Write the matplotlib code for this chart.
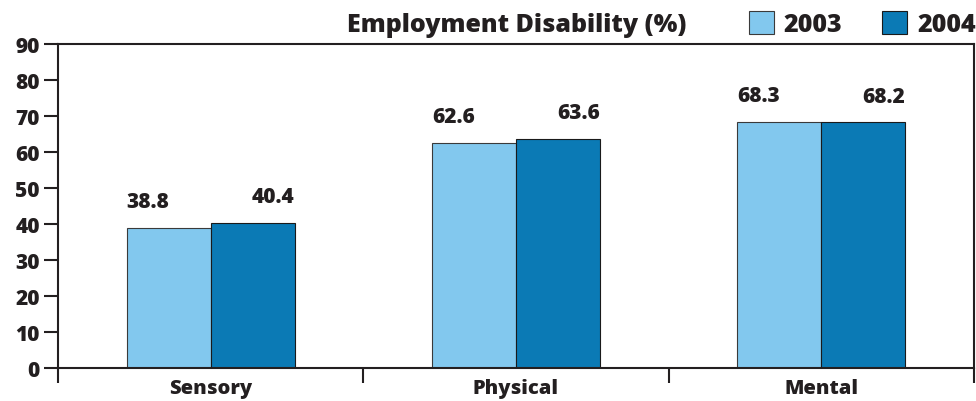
import numpy as np
import matplotlib.pyplot as plt
from matplotlib.ticker import FixedLocator

plt.rcParams['font.family'] = ['Open Sans', 'DejaVu Sans']
plt.rcParams['font.weight'] = 'bold'

categories = ['Sensory', 'Physical', 'Mental']
years = ['2003', '2004']
vals_2003 = [38.8, 62.6, 68.3]
vals_2004 = [40.4, 63.6, 68.2]

ink = '#231f20'
light = '#82c8ee'
dark = '#0b7ab5'

fig = plt.figure(figsize=(9.76, 4.02), dpi=100)
ax = fig.add_axes([58 / 976, 1 - 369 / 402, 916 / 976, 324 / 402])

x = np.arange(len(categories))
w = 0.275
ax.bar(x - w / 2, vals_2003, w, color=light, edgecolor='#3a3a3a', lw=0.8, label=years[0])
ax.bar(x + w / 2, vals_2004, w, color=dark, edgecolor='#1a1a1a', lw=0.8, label=years[1])

# value labels: 2003 aligned to left bar edge, 2004 to right bar edge
for xi, v in zip(x, vals_2003):
    ax.annotate(f'{v:.1f}', (xi - w, v), xytext=(0, 19), textcoords='offset points',
                ha='left', va='center', fontsize=15, fontweight='heavy', color=ink)
for xi, v in zip(x, vals_2004):
    ax.annotate(f'{v:.1f}', (xi + w, v), xytext=(0, 19), textcoords='offset points',
                ha='right', va='center', fontsize=15, fontweight='heavy', color=ink)

ax.set_xlim(-0.5, 2.5)
ax.set_ylim(0, 90)
ax.set_yticks(range(0, 91, 10))
ax.set_xticks(x)
ax.set_xticklabels(categories)
ax.xaxis.set_minor_locator(FixedLocator([-0.5, 0.5, 1.5, 2.5]))
ax.tick_params(axis='x', which='major', length=0, pad=7, labelsize=14.5, colors=ink)
ax.tick_params(axis='x', which='minor', length=11, width=1.5, color=ink)
ax.tick_params(axis='y', length=10, width=1.5, color=ink, labelsize=15, labelcolor=ink, pad=3)
for lab in ax.get_xticklabels() + ax.get_yticklabels():
    lab.set_fontweight('heavy')
for s in ax.spines.values():
    s.set_linewidth(1.5)
    s.set_color(ink)

fig.text(517 / 976, 1 - 25 / 402, 'Employment Disability (%)', ha='center', va='center',
         fontsize=18, fontweight='heavy', color=ink)
fig.legend(loc='center right', bbox_to_anchor=(1.0, 1 - 25 / 402), ncol=2, frameon=False,
           prop={'size': 18, 'weight': 'heavy'}, handlelength=1.0, handleheight=1.0,
           columnspacing=1.6, handletextpad=0.4, borderaxespad=0.0, borderpad=0.0,
           labelcolor=ink)

fig.savefig('out.png', dpi=100)
